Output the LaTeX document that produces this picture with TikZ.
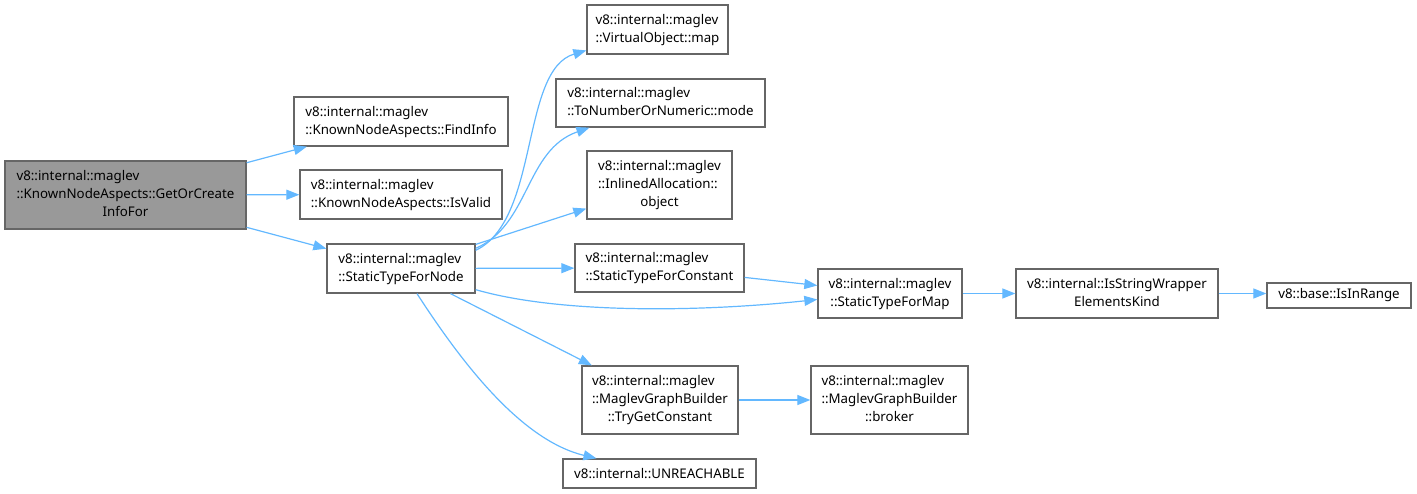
\documentclass[tikz,border=0pt]{standalone}
\usepackage{fontspec}
\setmainfont{Noto Sans}
\usetikzlibrary{arrows.meta}
\definecolor{edgeblue}{HTML}{63B8FF}
\definecolor{boxgray}{HTML}{666666}
\definecolor{curfill}{HTML}{999999}
% left-aligned lines, last line centred
\newcommand{\lbl}[2]{\begin{tabular}{@{}l@{}}#1\\\multicolumn{1}{@{}c@{}}{#2}\end{tabular}}
\tikzset{
  fn/.style={draw=boxgray, line width=1.3pt, fill=white, inner sep=0pt,
    font=\fontsize{13.3}{18}\selectfont},
  cur/.style={fn, fill=curfill},
  sz/.style 2 args={minimum width=#1pt, minimum height=#2pt},
  call/.style={edgeblue, line width=1.2pt, -{Triangle[length=13pt,width=10pt]}},
}

\begin{document}
\begin{tikzpicture}[x=1pt, y=-1pt]
\useasboundingbox (0,0) rectangle (1417,494);
% caller
\node[cur, sz={241}{68}] (main) at (125.5,195)
  {\lbl{v8::internal::maglev\\::KnownNodeAspects::GetOrCreate}{InfoFor}};
% first level
\node[fn, sz={214}{49}] (find) at (401,121.5) {\lbl{v8::internal::maglev}{::KnownNodeAspects::FindInfo}};
\node[fn, sz={202}{49}] (valid) at (401,194.5) {\lbl{v8::internal::maglev}{::KnownNodeAspects::IsValid}};
\node[fn, sz={148}{49}] (stfn) at (401,268.5) {\lbl{v8::internal::maglev}{::StaticTypeForNode}};
% second level
\node[fn, sz={141}{49}] (vomap) at (657.5,29.5) {\lbl{v8::internal::maglev}{::VirtualObject::map}};
\node[fn, sz={209}{48}] (tonum) at (660.5,103) {\lbl{v8::internal::maglev}{::ToNumberOrNumeric::mode}};
\node[fn, sz={145}{68}] (inlined) at (659.5,185) {\lbl{v8::internal::maglev\\::InlinedAllocation::}{object}};
\node[fn, sz={169}{48}] (stfc) at (659.5,268) {\lbl{v8::internal::maglev}{::StaticTypeForConstant}};
\node[fn, sz={156}{68}] (tryget) at (660,400) {\lbl{v8::internal::maglev\\::MaglevGraphBuilder}{::TryGetConstant}};
\node[fn, sz={193}{29}] (unreach) at (659.5,473.5) {v8::internal::UNREACHABLE};
% third level and beyond
\node[fn, sz={144}{49}] (stfmap) at (890,293.5) {\lbl{v8::internal::maglev}{::StaticTypeForMap}};
\node[fn, sz={157}{68}] (broker) at (889.5,400) {\lbl{v8::internal::maglev\\::MaglevGraphBuilder}{::broker}};
\node[fn, sz={202}{49}] (issw) at (1117,293.5) {\lbl{v8::internal::IsStringWrapper}{ElementsKind}};
\node[fn, sz={144}{25}] (inrange) at (1339,295.5) {v8::base::IsInRange};

\draw[call] (main) -- (find);
\draw[call] (main) -- (valid);
\draw[call] (main) -- (stfn);
\draw[call] ([yshift=-7pt]stfn.north east) .. controls (540,220) and (520,70) .. (vomap);
\draw[call] ([yshift=-5pt]stfn.north east) .. controls (530,225) and (525,150) .. (tonum);
\draw[call] (stfn) -- (inlined);
\draw[call] (stfn) -- (stfc);
\draw[call] ([yshift=4pt]stfn.south east) .. controls (560,314) and (700,312) .. ([yshift=-6pt]stfmap.west);
\draw[call] (stfn) -- (tryget);
\draw[call] ([xshift=16pt]stfn.south) .. controls (460,360) and (520,440) .. (unreach);
\draw[call] (stfc) -- (stfmap);
\draw[call] (stfmap) -- (issw);
\draw[call] (issw.east) -- (inrange.west|-issw.east);
\draw[call] (tryget) -- (broker);
\end{tikzpicture}
\end{document}
